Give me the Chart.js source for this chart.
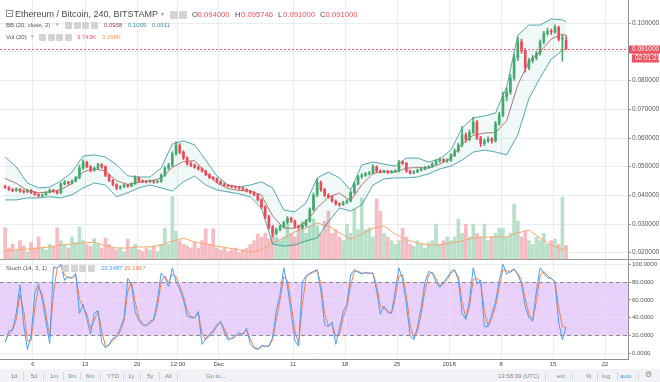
<!DOCTYPE html>
<html><head><meta charset="utf-8">
<script src="https://cdn.jsdelivr.net/npm/chart.js@4.4.1/dist/chart.umd.min.js"></script>
<style>
html,body{margin:0;padding:0;background:#fff;}
#wrap{position:relative;width:660px;height:382px;overflow:hidden;font-family:"Liberation Sans",Arial,sans-serif;}
canvas{position:absolute;left:0;}
.t{position:absolute;white-space:nowrap;line-height:1;}
.ic{position:absolute;width:7px;height:7px;background:#d3d3d3;border-radius:1px;}
.tb{position:absolute;top:373px;font-size:6px;color:#8a8a8a;white-space:nowrap;line-height:1;}
.sp{position:absolute;top:372px;width:1px;height:8px;background:#d6d9de;}
</style></head><body><div id="wrap">
<canvas id="cMain" width="660" height="259" style="top:0"></canvas>
<div style="position:absolute;left:0;top:259px;width:660px;height:1px;background:#9c9c9c"></div>
<canvas id="cStoch" width="660" height="110" style="top:260px"></canvas>
<div style="position:absolute;left:0;top:369px;width:660px;height:13px;background:#f0f2f5"></div>

<!-- legend row 1 -->
<div style="position:absolute;left:6px;top:10px;width:5px;height:5px;border:1px solid #8a8a8a;"><div style="position:absolute;left:1px;top:2px;width:3px;height:1px;background:#8a8a8a"></div></div>
<div class="t" style="left:15px;top:9.5px;font-size:9px;color:#4a4a4a">Ethereum / Bitcoin, 240, BITSTAMP</div>
<div class="t" style="left:161px;top:11px;font-size:6px;color:#999">▾</div>
<div class="ic" style="left:170px;top:11px;width:8px;height:8px"></div>
<div class="ic" style="left:179px;top:11px;width:8px;height:8px"></div>
<div class="t" style="left:192px;top:10.5px;font-size:7.7px;color:#4a4a4a">O</div>
<div class="t" id="vO" style="left:197.5px;top:10.5px;font-size:7.7px;color:#ee4f5e"></div>
<div class="t" style="left:235px;top:10.5px;font-size:7.7px;color:#4a4a4a">H</div>
<div class="t" id="vH" style="left:241px;top:10.5px;font-size:7.7px;color:#ee4f5e"></div>
<div class="t" style="left:278px;top:10.5px;font-size:7.7px;color:#4a4a4a">L</div>
<div class="t" id="vL" style="left:283px;top:10.5px;font-size:7.7px;color:#ee4f5e"></div>
<div class="t" style="left:320px;top:10.5px;font-size:7.7px;color:#4a4a4a">C</div>
<div class="t" id="vC" style="left:325.5px;top:10.5px;font-size:7.7px;color:#ee4f5e"></div>
<!-- legend row 2 -->
<div class="t" style="left:6px;top:22px;font-size:6px;color:#555">BB (20, close, 2)</div>
<div class="t" style="left:56px;top:22px;font-size:5px;color:#999">▾</div>
<div class="ic" style="left:65px;top:22px"></div><div class="ic" style="left:73.5px;top:22px"></div><div class="ic" style="left:82px;top:22px"></div><div class="ic" style="left:90.5px;top:22px"></div>
<div class="t" id="vBBm" style="left:104px;top:22px;font-size:6px;color:#a4414a"></div>
<div class="t" id="vBBu" style="left:128px;top:22px;font-size:6px;color:#3e93a6"></div>
<div class="t" id="vBBl" style="left:152px;top:22px;font-size:6px;color:#3e93a6"></div>
<!-- legend row 3 -->
<div class="t" style="left:6px;top:34px;font-size:6px;color:#555">Vol (20)</div>
<div class="t" style="left:31px;top:34px;font-size:5px;color:#999">▾</div>
<div class="ic" style="left:39px;top:34px"></div><div class="ic" style="left:47.5px;top:34px"></div><div class="ic" style="left:56px;top:34px"></div><div class="ic" style="left:64.5px;top:34px"></div>
<div class="t" id="vVol" style="left:77px;top:34px;font-size:6px;color:#ee5564"></div>
<div class="t" id="vVolMa" style="left:102px;top:34px;font-size:6px;color:#f29a55"></div>
<!-- stoch legend -->
<div class="t" style="left:6px;top:265px;font-size:6px;color:#555">Stoch (14, 3, 1)</div>
<div class="t" style="left:53px;top:265px;font-size:5px;color:#999">▾</div>
<div class="ic" style="left:62px;top:265px"></div><div class="ic" style="left:70.5px;top:265px"></div><div class="ic" style="left:79px;top:265px"></div><div class="ic" style="left:87.5px;top:265px"></div>
<div class="t" id="vK" style="left:101px;top:265px;font-size:6px;color:#4a9ff5"></div>
<div class="t" id="vD" style="left:124px;top:265px;font-size:6px;color:#f57f4f"></div>

<!-- toolbar -->
<div class="tb" style="left:10.7px">1d</div><div class="sp" style="left:23px"></div>
<div class="tb" style="left:30.7px">5d</div><div class="sp" style="left:43px"></div>
<div class="tb" style="left:50px">1m</div><div class="sp" style="left:63px"></div>
<div class="tb" style="left:68px">3m</div><div class="sp" style="left:80px"></div>
<div class="tb" style="left:86px">6m</div><div class="sp" style="left:100px"></div>
<div class="tb" style="left:107px">YTD</div><div class="sp" style="left:123px"></div>
<div class="tb" style="left:128px">1y</div><div class="sp" style="left:140px"></div>
<div class="tb" style="left:147px">5y</div><div class="sp" style="left:159px"></div>
<div class="tb" style="left:165px">All</div><div class="sp" style="left:177px"></div>
<div class="tb" style="left:206px">Go to...</div>
<div class="tb" style="left:498px">13:58:39 (UTC)</div><div class="sp" style="left:545px"></div>
<div class="tb" style="left:557px">ext</div><div class="sp" style="left:572px"></div>
<div class="tb" style="left:586px">%</div><div class="sp" style="left:597px"></div>
<div class="tb" style="left:602px">log</div><div class="sp" style="left:617px"></div>
<div class="tb" style="left:620px;color:#3d9be9">auto</div><div class="sp" style="left:638px"></div>
<div class="tb" style="left:645px;font-size:8px;top:371px">⚙</div>
</div>
<script>
// ---------- data ----------
const T0 = 1.25;      // first candle time, days after Nov 1 2017
const STEP = 0.5;     // candle spacing in days
// candles: [open, high, low, close]
const candles = [
[0.0432,0.0436,0.0424,0.0428],[0.0428,0.0431,0.0417,0.0420],[0.0420,0.0424,0.0412,0.0416],[0.0416,0.0426,0.0414,0.0422],
[0.0422,0.0424,0.0411,0.0415],[0.0415,0.0419,0.0408,0.0412],[0.0412,0.0421,0.0410,0.0418],[0.0418,0.0420,0.0406,0.0410],
[0.0410,0.0413,0.0400,0.0403],[0.0403,0.0406,0.0394,0.0398],[0.0398,0.0405,0.0395,0.0402],[0.0402,0.0413,0.0400,0.0410],
[0.0410,0.0422,0.0408,0.0418],[0.0418,0.0421,0.0410,0.0414],[0.0414,0.0417,0.0404,0.0408],[0.0408,0.0444,0.0406,0.0440],
[0.0440,0.0452,0.0436,0.0446],[0.0446,0.0449,0.0438,0.0443],[0.0443,0.0454,0.0440,0.0450],[0.0450,0.0466,0.0447,0.0462],
[0.0462,0.0505,0.0458,0.0495],[0.0495,0.0524,0.0490,0.0515],[0.0515,0.0519,0.0496,0.0500],[0.0500,0.0504,0.0482,0.0488],
[0.0488,0.0499,0.0484,0.0495],[0.0495,0.0512,0.0491,0.0507],[0.0507,0.0511,0.0494,0.0500],[0.0500,0.0503,0.0465,0.0470],
[0.0470,0.0474,0.0448,0.0452],[0.0452,0.0456,0.0433,0.0438],[0.0438,0.0441,0.0420,0.0425],[0.0425,0.0434,0.0421,0.0430],
[0.0430,0.0440,0.0427,0.0436],[0.0436,0.0439,0.0428,0.0432],[0.0432,0.0444,0.0430,0.0440],[0.0440,0.0468,0.0438,0.0462],
[0.0462,0.0465,0.0446,0.0450],[0.0450,0.0454,0.0444,0.0448],[0.0448,0.0452,0.0443,0.0447],[0.0447,0.0454,0.0444,0.0450],
[0.0450,0.0452,0.0442,0.0446],[0.0446,0.0452,0.0443,0.0448],[0.0448,0.0475,0.0446,0.0470],[0.0470,0.0500,0.0466,0.0495],
[0.0495,0.0512,0.0490,0.0505],[0.0505,0.0552,0.0500,0.0545],[0.0545,0.0587,0.0540,0.0575],[0.0575,0.0580,0.0545,0.0550],
[0.0550,0.0556,0.0525,0.0530],[0.0530,0.0535,0.0505,0.0510],[0.0510,0.0516,0.0500,0.0505],[0.0505,0.0509,0.0494,0.0498],
[0.0498,0.0503,0.0488,0.0492],[0.0492,0.0496,0.0481,0.0485],[0.0485,0.0488,0.0468,0.0472],[0.0472,0.0476,0.0458,0.0462],
[0.0462,0.0466,0.0454,0.0458],[0.0458,0.0461,0.0444,0.0448],[0.0448,0.0451,0.0437,0.0440],[0.0440,0.0443,0.0432,0.0435],
[0.0435,0.0438,0.0429,0.0432],[0.0432,0.0436,0.0427,0.0430],[0.0430,0.0433,0.0425,0.0428],[0.0428,0.0431,0.0421,0.0425],
[0.0425,0.0428,0.0416,0.0420],[0.0420,0.0423,0.0411,0.0415],[0.0415,0.0418,0.0406,0.0410],[0.0410,0.0413,0.0398,0.0402],
[0.0402,0.0405,0.0380,0.0385],[0.0385,0.0388,0.0354,0.0360],[0.0360,0.0364,0.0318,0.0325],[0.0325,0.0330,0.0282,0.0290],
[0.0290,0.0295,0.0255,0.0268],[0.0268,0.0286,0.0262,0.0280],[0.0280,0.0296,0.0276,0.0290],[0.0290,0.0310,0.0286,0.0305],
[0.0305,0.0326,0.0300,0.0320],[0.0320,0.0324,0.0305,0.0310],[0.0310,0.0314,0.0287,0.0292],[0.0292,0.0296,0.0282,0.0288],
[0.0288,0.0300,0.0284,0.0295],[0.0295,0.0316,0.0291,0.0310],[0.0310,0.0356,0.0306,0.0350],[0.0350,0.0408,0.0346,0.0400],
[0.0400,0.0458,0.0396,0.0445],[0.0445,0.0450,0.0414,0.0420],[0.0420,0.0425,0.0395,0.0400],[0.0400,0.0406,0.0390,0.0395],
[0.0395,0.0399,0.0376,0.0380],[0.0380,0.0384,0.0366,0.0370],[0.0370,0.0374,0.0362,0.0368],[0.0368,0.0380,0.0365,0.0375],
[0.0375,0.0384,0.0371,0.0380],[0.0380,0.0415,0.0377,0.0410],[0.0410,0.0446,0.0406,0.0440],[0.0440,0.0470,0.0436,0.0465],
[0.0465,0.0476,0.0460,0.0470],[0.0470,0.0480,0.0466,0.0475],[0.0475,0.0483,0.0471,0.0478],[0.0478,0.0507,0.0475,0.0500],
[0.0500,0.0503,0.0480,0.0485],[0.0485,0.0489,0.0478,0.0482],[0.0482,0.0488,0.0479,0.0484],[0.0484,0.0487,0.0476,0.0480],
[0.0480,0.0487,0.0477,0.0483],[0.0483,0.0489,0.0480,0.0485],[0.0485,0.0522,0.0482,0.0515],[0.0515,0.0521,0.0507,0.0512],
[0.0512,0.0515,0.0480,0.0485],[0.0485,0.0488,0.0474,0.0478],[0.0478,0.0486,0.0475,0.0482],[0.0482,0.0492,0.0479,0.0488],
[0.0488,0.0496,0.0485,0.0492],[0.0492,0.0501,0.0489,0.0497],[0.0497,0.0504,0.0494,0.0500],[0.0500,0.0514,0.0497,0.0510],
[0.0510,0.0525,0.0506,0.0520],[0.0520,0.0531,0.0515,0.0525],[0.0525,0.0528,0.0514,0.0520],[0.0520,0.0527,0.0515,0.0522],
[0.0522,0.0546,0.0518,0.0540],[0.0540,0.0562,0.0535,0.0555],[0.0555,0.0582,0.0550,0.0575],[0.0575,0.0640,0.0570,0.0610],
[0.0610,0.0618,0.0585,0.0595],[0.0595,0.0628,0.0590,0.0620],[0.0620,0.0673,0.0615,0.0655],[0.0655,0.0662,0.0594,0.0600],
[0.0600,0.0606,0.0570,0.0580],[0.0580,0.0596,0.0574,0.0590],[0.0590,0.0604,0.0584,0.0597],[0.0597,0.0602,0.0582,0.0590],
[0.0590,0.0658,0.0586,0.0650],[0.0650,0.0690,0.0644,0.0680],[0.0680,0.0760,0.0674,0.0745],[0.0745,0.0775,0.0730,0.0760],
[0.0760,0.0822,0.0752,0.0810],[0.0810,0.0892,0.0802,0.0880],[0.0880,0.0951,0.0870,0.0935],[0.0935,0.0945,0.0895,0.0905],
[0.0905,0.0912,0.0830,0.0845],[0.0845,0.0878,0.0838,0.0870],[0.0870,0.0888,0.0862,0.0880],[0.0880,0.0902,0.0872,0.0895],
[0.0895,0.0942,0.0889,0.0935],[0.0935,0.0972,0.0928,0.0965],[0.0965,0.0983,0.0958,0.0972],[0.0972,0.0980,0.0961,0.0970],
[0.0970,0.0995,0.0965,0.0985],[0.0985,0.0990,0.0938,0.0945],[0.0945,0.0958,0.0868,0.0950],[0.094000,0.095746,0.091000,0.091000]
];
// volume per candle (K)
const volume = [
8.5,3,4,2.5,5,3.5,2,4.5,3,6,3,2.5,4,3.5,8.5,
5,4,3,6,4.5,8.7,5,4,3.5,5.5,4,3,5.7,4,3,
2.5,3,2,5.4,3,4,2.5,2,3,2.5,3.5,2,4,8.4,4,
17,7.6,5,4,3.5,3,4.5,3,5,8.2,4,8.2,3,2.5,3,
2,2.5,3,1.8,2.5,3,4,5,6.8,6,7,5.5,8,6,5,
6,9.5,7,6,8,10.3,7,9,11,9,7,10.3,13,7,8,
6,5,9.5,7,13.6,8,16.6,8,8.5,6,16.3,13,7,6,5,
4,5,8.4,6,4,3.5,5,4,3,4.5,5,9.5,4,5,6,
5,6,10.9,7,9.5,6,9.5,7,6,9.5,5,6,7,8.4,8.4,
6,7,15,10.3,6,7.6,5,4,6,5,7,4,5,5.4,4,16.9,3.743
];
// Bollinger Bands (20, close, 2) and volume MA(20), sampled every 3rd candle (last = final candle)
const bbUpper = [0.0534,0.0499,0.0443,0.0426,0.0429,0.0450,0.0481,0.0537,0.0541,0.0534,0.0506,0.0468,0.0464,0.0464,0.0495,0.0579,0.0590,0.0576,0.0523,0.0468,0.0436,0.0429,0.0436,0.0447,0.0426,0.0349,0.0342,0.0374,0.0461,0.0481,0.0461,0.0418,0.0506,0.0516,0.0509,0.0502,0.0530,0.0530,0.0516,0.0527,0.0558,0.0635,0.0670,0.0677,0.0687,0.0778,0.0959,0.0994,0.0994,0.1015,0.1012,0.1005];
const bbBasis = [0.0459,0.0442,0.0417,0.0409,0.0412,0.0420,0.0441,0.0482,0.0492,0.0485,0.0451,0.0438,0.0445,0.0450,0.0460,0.0497,0.0518,0.0521,0.0480,0.0443,0.0424,0.0417,0.0415,0.0401,0.0328,0.0286,0.0285,0.0307,0.0356,0.0394,0.0408,0.0381,0.0437,0.0476,0.0483,0.0481,0.0495,0.0497,0.0495,0.0509,0.0530,0.0579,0.0610,0.0617,0.0619,0.0660,0.0785,0.0866,0.0900,0.0945,0.0962,0.0958];
const bbLower = [0.0384,0.0384,0.0391,0.0391,0.0395,0.0391,0.0402,0.0426,0.0443,0.0436,0.0395,0.0409,0.0426,0.0436,0.0426,0.0415,0.0447,0.0467,0.0436,0.0419,0.0412,0.0405,0.0395,0.0356,0.0230,0.0223,0.0227,0.0241,0.0251,0.0307,0.0356,0.0345,0.0367,0.0436,0.0457,0.0461,0.0461,0.0464,0.0475,0.0492,0.0502,0.0523,0.0551,0.0558,0.0551,0.0541,0.0611,0.0738,0.0810,0.0875,0.0905,0.0911];
const volMA = [2.2,2.5,2.7,3.0,3.3,3.8,4.1,4.4,4.6,3.5,3.0,3.0,3.3,3.3,3.8,4.9,5.7,4.6,4.1,3.5,3.0,2.5,1.9,2.5,4.4,5.7,7.4,8.4,9.8,9.0,7.1,5.4,6.8,8.4,9.0,6.8,5.2,4.4,3.8,3.8,4.4,4.9,5.7,6.0,6.0,6.0,7.1,7.9,5.7,3.8,2.5,3.268];
// Stochastic (14, 3, 1) per candle
const stochK = [12,25,26,45,77,32,4,20,68,78,60,35,11,96,96,100,82,86,84,90,45,55,38,22,45,48,12,6,10,17,19,28,40,84,78,47,36,32,31,36,38,60,90,85,75,96,80,72,60,42,40,40,47,10,17,21,26,32,36,24,15,17,20,23,21,28,10,6,4,9,8,8,18,48,66,96,75,45,14,8,80,87,90,92,94,70,32,30,35,10,28,47,55,88,94,91,89,91,90,90,70,44,53,46,45,70,96,83,55,20,15,30,52,80,92,90,80,74,80,85,92,94,82,45,38,60,96,78,82,30,30,44,58,82,100,89,92,95,88,78,52,40,36,70,96,90,85,84,80,35,15,29.3487];
const stochD = [14,21,26,38,66,48,14,14,51,74,66,44,19,66,96,99,88,85,85,88,61,52,44,28,37,47,25,8,9,15,18,25,36,69,80,58,40,33,31,34,37,52,80,87,79,89,86,75,64,48,41,40,45,23,15,20,24,30,35,28,18,16,19,22,22,26,16,7,5,7,8,8,15,38,60,86,82,56,25,10,55,85,89,91,93,78,45,31,33,19,22,40,52,76,92,92,90,90,90,90,77,53,50,48,45,61,87,88,65,32,17,25,44,70,88,91,84,76,78,83,90,93,86,58,40,52,83,84,81,48,30,39,53,74,94,93,91,94,90,82,61,44,37,58,87,92,87,84,81,51,30,29.1867];
// axes
const priceTicks = [0.02,0.03,0.04,0.05,0.06,0.07,0.08,0.09,0.10];
const stochTicks = [0,20,40,60,80,100];
const dateTicks  = [5,12,19,24.5,30,40,47,54,61,68,75,82];
const dateLabels = ['6','13','20','12:00','Dec','11','18','25','2018','8','15','22'];
const stochBandHigh = 80, stochBandLow = 20;
const countdown = '02:01:21';

// ---------- layout / style ----------
const X_MIN = 0.56, X_MAX = 85.08;
const P_MIN = 0.0178, P_MAX = 0.10813;
const VOL_MAX = 70.6;
const S_MIN = -6.4, S_MAX = 104.8;
const UP = '#45a86d', DOWN = '#e94b57';
const VOL_UP = '#b9e0c8', VOL_DOWN = '#f6bcc3';
const GRID = 'rgba(226,231,238,0.75)';
const FONT = '"Liberation Sans", Arial, sans-serif';

const N = candles.length;
const tOf = i => T0 + i * STEP;
const sT = k => tOf(Math.min(3 * k, N - 1));
const isUp = i => candles[i][3] >= candles[i][0];
const last = candles[N - 1];

document.getElementById('vO').textContent = last[0].toFixed(6);
document.getElementById('vH').textContent = last[1].toFixed(6);
document.getElementById('vL').textContent = last[2].toFixed(6);
document.getElementById('vC').textContent = last[3].toFixed(6);
document.getElementById('vBBm').textContent = bbBasis[bbBasis.length-1].toFixed(4);
document.getElementById('vBBu').textContent = bbUpper[bbUpper.length-1].toFixed(4);
document.getElementById('vBBl').textContent = bbLower[bbLower.length-1].toFixed(4);
document.getElementById('vVol').textContent = volume[N-1].toFixed(3) + 'K';
document.getElementById('vVolMa').textContent = volMA[volMA.length-1].toFixed(3) + 'K';
document.getElementById('vK').textContent = stochK[N-1].toFixed(4);
document.getElementById('vD').textContent = stochD[N-1].toFixed(4);

const noPad = s => { s.paddingTop = 0; s.paddingBottom = 0; s.paddingLeft = 0; s.paddingRight = 0; };

const priceTag = {
  id: 'priceTag',
  afterDraw(chart) {
    const {ctx, chartArea: a, scales: {y}} = chart;
    const py = Math.round(y.getPixelForValue(last[3])) + 0.5;
    ctx.save();
    ctx.strokeStyle = '#f2606e'; ctx.lineWidth = 1; ctx.setLineDash([2, 2]);
    ctx.beginPath(); ctx.moveTo(a.left, py); ctx.lineTo(a.right, py); ctx.stroke();
    ctx.setLineDash([]);
    ctx.fillStyle = '#ef4f5f';
    ctx.fillRect(a.right + 1, py - 4, 32, 8);
    ctx.fillRect(a.right + 4, py + 5, 27, 8);
    ctx.fillStyle = '#fff'; ctx.font = '6.5px ' + FONT; ctx.textBaseline = 'middle';
    ctx.fillText(last[3].toFixed(6), a.right + 4, py);
    ctx.fillText(countdown, a.right + 7, py + 9);
    ctx.restore();
  }
};

const bandBg = {
  id: 'bandBg',
  beforeDraw(chart) {
    const {ctx, chartArea: a, scales: {y}} = chart;
    const y1 = y.getPixelForValue(stochBandHigh), y2 = y.getPixelForValue(stochBandLow);
    ctx.save(); ctx.fillStyle = '#e8d0fa';
    ctx.fillRect(a.left, y1, a.right - a.left, y2 - y1); ctx.restore();
  },
  beforeDatasetsDraw(chart) {
    const {ctx, chartArea: a, scales: {y}} = chart;
    ctx.save(); ctx.strokeStyle = '#8c8c8c'; ctx.lineWidth = 1; ctx.setLineDash([4, 3]);
    [stochBandHigh, stochBandLow].forEach(v => {
      const py = Math.round(y.getPixelForValue(v)) + 0.5;
      ctx.beginPath(); ctx.moveTo(a.left, py); ctx.lineTo(a.right, py); ctx.stroke();
    });
    ctx.restore();
  }
};

const common = {
  responsive: false, animation: false, events: [],
  layout: { padding: 0 },
  plugins: { legend: { display: false }, tooltip: { enabled: false } }
};

new Chart(document.getElementById('cMain'), {
  type: 'bar',
  data: { datasets: [
    { type: 'line', data: bbUpper.map((v, k) => ({x: sT(k), y: v})), borderColor: 'rgba(30,140,145,0.75)', borderWidth: 1, pointRadius: 0, fill: '+2', backgroundColor: 'rgba(40,150,155,0.07)', order: 5 },
    { type: 'line', data: bbBasis.map((v, k) => ({x: sT(k), y: v})), borderColor: 'rgba(160,70,70,0.75)', borderWidth: 1, pointRadius: 0, fill: false, order: 5 },
    { type: 'line', data: bbLower.map((v, k) => ({x: sT(k), y: v})), borderColor: 'rgba(30,140,145,0.75)', borderWidth: 1, pointRadius: 0, fill: false, order: 5 },
    { type: 'bar', yAxisID: 'yv', data: volume.map((v, i) => ({x: tOf(i), y: v})), backgroundColor: c => isUp(c.dataIndex) ? VOL_UP : VOL_DOWN, barThickness: 3, grouped: false, order: 7 },
    { type: 'line', yAxisID: 'yv', data: volMA.map((v, k) => ({x: sT(k), y: v})), borderColor: '#f5a76d', borderWidth: 1, pointRadius: 0, fill: false, order: 6 },
    { type: 'bar', data: candles.map((c, i) => ({x: tOf(i), y: [c[2], c[1]]})), backgroundColor: c => isUp(c.dataIndex) ? UP : DOWN, barThickness: 1, grouped: false, order: 2 },
    { type: 'bar', data: candles.map((c, i) => ({x: tOf(i), y: [c[0], c[3]]})), backgroundColor: c => isUp(c.dataIndex) ? UP : DOWN, barThickness: 2, minBarLength: 1, grouped: false, order: 1 }
  ]},
  options: Object.assign({}, common, {
    scales: {
      x: { type: 'linear', min: X_MIN, max: X_MAX, offset: false,
           afterBuildTicks: s => { s.ticks = dateTicks.map(v => ({value: v})); },
           ticks: { display: false }, grid: { color: GRID, drawTicks: false, offset: false }, border: { display: false },
           afterFit: s => { s.height = 0; noPad(s); } },
      y: { type: 'linear', position: 'right', min: P_MIN, max: P_MAX,
           afterBuildTicks: s => { s.ticks = priceTicks.map(v => ({value: v})); },
           ticks: { callback: v => Number(v).toFixed(6), font: { size: 6.5, family: FONT }, color: '#555', padding: 1 },
           grid: { color: GRID, tickColor: '#9a9a9a', tickLength: 3 },
           border: { color: '#8e8e8e' },
           afterFit: s => { s.width = 32; noPad(s); } },
      yv: { type: 'linear', display: false, min: 0, max: VOL_MAX }
    }
  }),
  plugins: [priceTag]
});

new Chart(document.getElementById('cStoch'), {
  type: 'line',
  data: { datasets: [
    { data: stochK.map((v, i) => ({x: tOf(i), y: v})), borderColor: '#4a9ff5', borderWidth: 1, pointRadius: 0, fill: false },
    { data: stochD.map((v, i) => ({x: tOf(i), y: v})), borderColor: '#f57f4f', borderWidth: 1, pointRadius: 0, fill: false }
  ]},
  options: Object.assign({}, common, {
    scales: {
      x: { type: 'linear', min: X_MIN, max: X_MAX, offset: false,
           afterBuildTicks: s => { s.ticks = dateTicks.map(v => ({value: v})); },
           ticks: { callback: (v, i) => dateLabels[i], font: { size: 6, family: FONT }, color: '#4a4a4a', padding: 2, autoSkip: false, maxRotation: 0 },
           grid: { color: GRID, drawTicks: false }, border: { color: '#8e8e8e' },
           afterFit: s => { s.height = 11; noPad(s); } },
      y: { type: 'linear', position: 'right', min: S_MIN, max: S_MAX,
           afterBuildTicks: s => { s.ticks = stochTicks.map(v => ({value: v})); },
           ticks: { callback: v => Number(v).toFixed(4), font: { size: 6, family: FONT }, color: '#555', padding: 1 },
           grid: { color: GRID, tickColor: '#9a9a9a', tickLength: 3 },
           border: { color: '#8e8e8e' },
           afterFit: s => { s.width = 32; noPad(s); } }
    }
  }),
  plugins: [bandBg]
});
</script>
</body></html>
